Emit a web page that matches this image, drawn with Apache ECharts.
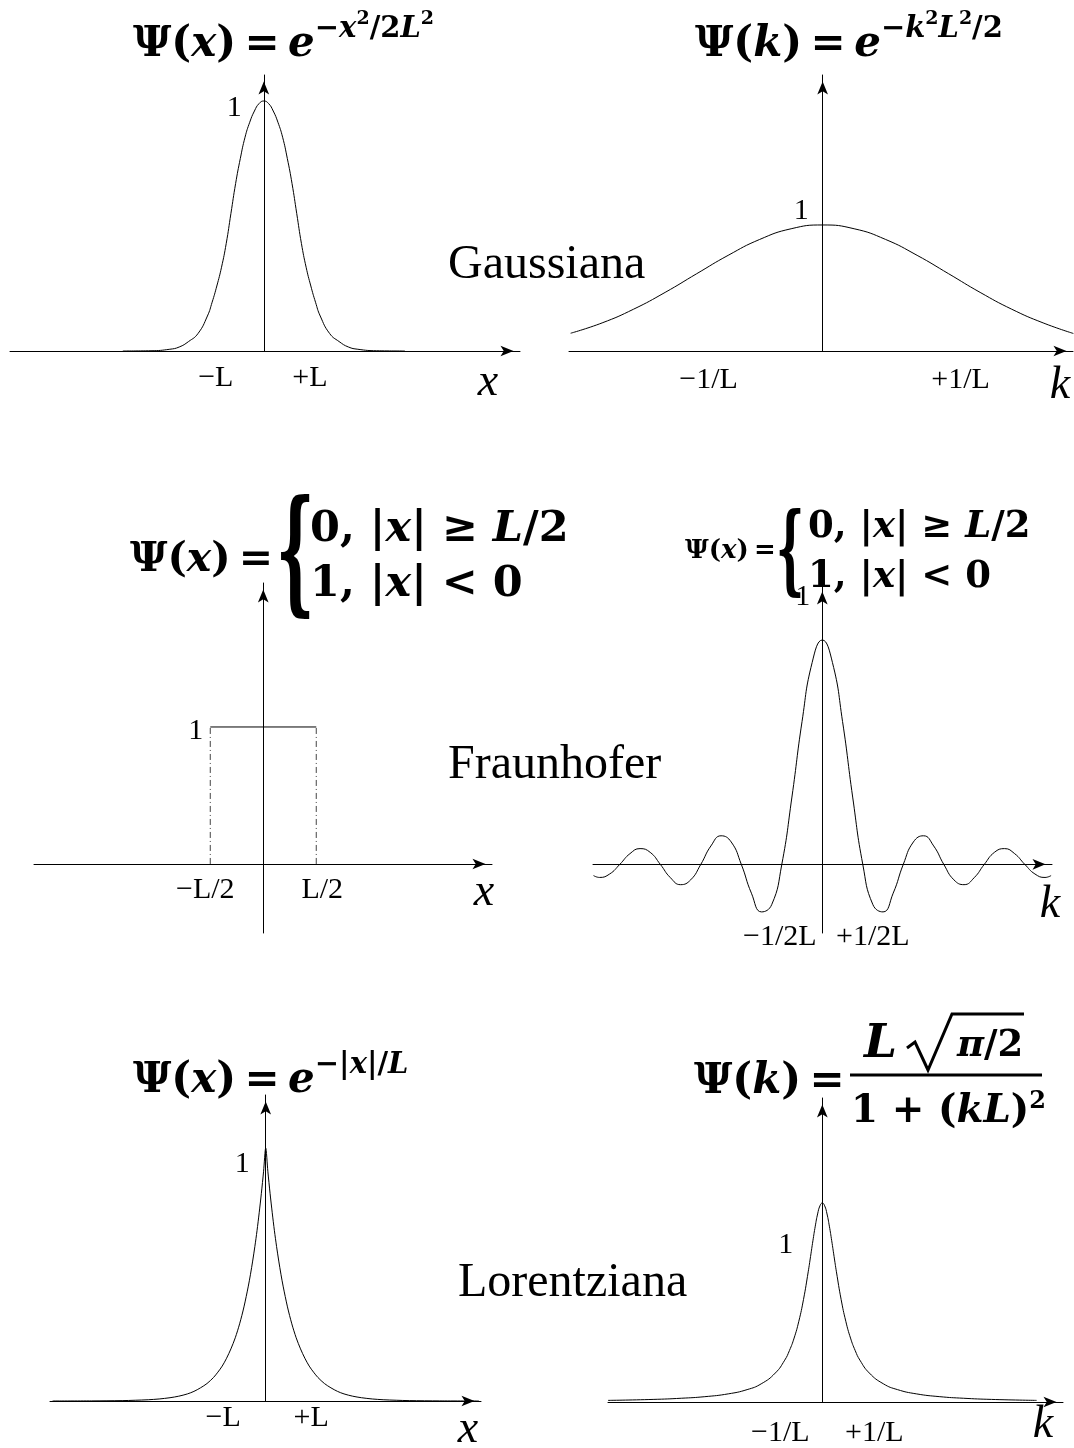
<!DOCTYPE html>
<html>
<head>
<meta charset="utf-8">
<script src="https://cdn.jsdelivr.net/npm/echarts@6/dist/echarts.min.js"></script>
<style>
  html, body { margin: 0; padding: 0; background: #fff; }
  #chart { width: 1074px; height: 1448px; }
</style>
</head>
<body>
<div id="chart"></div>
<script>
// Gaussian packet  Ψ(x) = e^{-x²/2L²}   (x in units of L)
const gaussXU = [-3.0, -2.4, -2.0, -1.8, -1.6, -1.4, -1.2, -1.1, -1.0, -0.9, -0.8, -0.7, -0.6, -0.5, -0.4, -0.3, -0.2, -0.1, 0,
                 0.1, 0.2, 0.3, 0.4, 0.5, 0.6, 0.7, 0.8, 0.9, 1.0, 1.1, 1.2, 1.4, 1.6, 1.8, 2.0, 2.4, 3.0];
const gaussXV = [0, 0.001, 0.007, 0.016, 0.038, 0.07, 0.14, 0.195, 0.26, 0.335, 0.43, 0.55, 0.67, 0.77, 0.855, 0.915, 0.96, 0.99, 1,
                 0.99, 0.96, 0.915, 0.855, 0.77, 0.67, 0.55, 0.43, 0.335, 0.26, 0.195, 0.14, 0.07, 0.038, 0.016, 0.007, 0.001, 0];

// Its transform  Ψ(k) = e^{-k²L²/2}   (k in units of 1/L)
const gaussKU = [-2.0, -1.75, -1.5, -1.25, -1.0, -0.75, -0.5, -0.25, 0, 0.25, 0.5, 0.75, 1.0, 1.25, 1.5, 1.75, 1.99];
const gaussKV = [0.141, 0.223, 0.332, 0.465, 0.613, 0.759, 0.885, 0.970, 1, 0.970, 0.885, 0.759, 0.613, 0.465, 0.332, 0.223, 0.139];

// Slit aperture (x in units of L)
const slitEdges = [-0.5, 0.5];
const slitHeight = [1];

// Fraunhofer pattern (k in units of 1/2L)
const sincKU = [-5.65, -5.5, -5.25, -5, -4.75, -4.5, -4.25, -4, -3.75, -3.5, -3.25, -3, -2.75, -2.5, -2.25, -2,
                -1.75, -1.5, -1.25, -1, -0.75, -0.5, -0.25, 0, 0.25, 0.5, 0.75, 1, 1.25, 1.5, 1.75,
                2, 2.25, 2.5, 2.75, 3, 3.25, 3.5, 3.75, 4, 4.25, 4.5, 4.75, 5, 5.25, 5.5, 5.65];
const sincKV = [-0.042, -0.049, -0.036, 0, 0.040, 0.059, 0.045, 0, -0.050, -0.076, -0.058, 0, 0.069, 0.107, 0.084, 0,
                -0.108, -0.178, -0.151, 0, 0.252, 0.535, 0.756, 0.840, 0.756, 0.535, 0.252, 0, -0.151, -0.178, -0.108,
                0, 0.084, 0.107, 0.069, 0, -0.058, -0.076, -0.050, 0, 0.045, 0.059, 0.040, 0, -0.036, -0.049, -0.042];

// Exponential packet  Ψ(x) = e^{-|x|/L}
const expXU = [-4.9, -4.0, -3.3, -3.0, -2.7, -2.45, -2.2, -2.0, -1.8, -1.65, -1.5, -1.35, -1.2, -1.1, -1.0, -0.9,
               -0.8, -0.7, -0.6, -0.5, -0.4, -0.35, -0.3, -0.25, -0.2, -0.15, -0.1, -0.05, 0,
               0.05, 0.1, 0.15, 0.2, 0.25, 0.3, 0.35, 0.4, 0.5, 0.6, 0.7, 0.8, 0.9, 1.0, 1.1, 1.2,
               1.35, 1.5, 1.65, 1.8, 2.0, 2.2, 2.45, 2.7, 3.0, 3.3, 4.0, 4.9];
const expXV = [0, 0.0004, 0.0015, 0.003, 0.005, 0.008, 0.013, 0.019, 0.028, 0.038, 0.052, 0.069, 0.093, 0.114, 0.138, 0.169,
               0.206, 0.250, 0.305, 0.372, 0.454, 0.501, 0.553, 0.610, 0.673, 0.744, 0.821, 0.906, 1,
               0.906, 0.821, 0.744, 0.673, 0.610, 0.553, 0.501, 0.454, 0.372, 0.305, 0.250, 0.206, 0.169, 0.138, 0.114, 0.093,
               0.069, 0.052, 0.038, 0.028, 0.019, 0.013, 0.008, 0.005, 0.003, 0.0015, 0.0004, 0];

// Lorentzian  Ψ(k) = L√(π/2) / (1 + (kL)²)   (k in units of 1/L)
const lorKU = [-4.56, -3.6, -3.0, -2.5, -2.0, -1.6, -1.3, -1.0, -0.8, -0.7, -0.6, -0.5, -0.4, -0.3, -0.25, -0.2, -0.15, -0.1, -0.05, 0,
               0.05, 0.1, 0.15, 0.2, 0.25, 0.3, 0.4, 0.5, 0.6, 0.7, 0.8, 1.0, 1.3, 1.6, 2.0, 2.5, 3.0, 3.6, 4.56];
const lorKV = [0.0103, 0.0165, 0.024, 0.034, 0.052, 0.079, 0.116, 0.185, 0.267, 0.328, 0.408, 0.515, 0.655, 0.831, 0.929, 1.029, 1.122, 1.200, 1.252, 1.27,
               1.252, 1.200, 1.122, 1.029, 0.929, 0.831, 0.655, 0.515, 0.408, 0.328, 0.267, 0.185, 0.116, 0.079, 0.052, 0.034, 0.024, 0.0165, 0.0103];

// Tick labels
const ticksGaussX = [-1, 1];     const ticksGaussXText = ['−L', '+L'];
const ticksGaussK = [-1, 1];     const ticksGaussKText = ['−1/L', '+1/L'];
const ticksSlitX = [-0.5, 0.5];  const ticksSlitXText = ['−L/2', 'L/2'];
const ticksSincK = [-1, 1];      const ticksSincKText = ['−1/2L', '+1/2L'];
const ticksExpX = [-1, 1];       const ticksExpXText = ['−L', '+L'];
const ticksLorK = [-1, 1];       const ticksLorKText = ['−1/L', '+1/L'];
const unitTick = [1];            const unitTickText = ['1'];

const TXT = 'Liberation Serif';
const MATH = 'DejaVu Serif';

const pair = (u, v) => u.map((x, i) => [x, v[i]]);

// Panel layout
const panels = [
  { grid: { left: 10, top: 75, width: 510, height: 276 }, xr: [-5.40, 5.45], yr: [0, 1.104],
    ticks: ticksGaussX, tickText: ticksGaussXText, tickShift: [-1, -1], tickMargin: 12,
    oneMargin: 22, oneShift: 7, name: 'x', nameDx: -32, nameDy: 32 },
  { grid: { left: 569, top: 75, width: 504, height: 276 }, xr: [-2.013, 1.987], yr: [0, 2.19],
    ticks: ticksGaussK, tickText: ticksGaussKText, tickShift: [12, 12], tickMargin: 14,
    oneMargin: 14, oneShift: -14, name: 'k', nameDx: -13, nameDy: 35 },
  { grid: { left: 34, top: 583, width: 458, height: 350 }, xr: [-2.163, 2.158], yr: [-0.504, 2.051],
    ticks: ticksSlitX, tickText: ticksSlitXText, tickShift: [-5, 6], tickMargin: 11,
    oneMargin: 60, oneShift: 4, name: 'x', nameDx: -8, nameDy: 29 },
  { grid: { left: 593, top: 585, width: 459, height: 348 }, xr: [-5.662, 5.672], yr: [-0.257, 1.046],
    ticks: ticksSincK, tickText: ticksSincKText, tickShift: [-2, 10], tickMargin: 58,
    oneMargin: 12, oneShift: 0, name: 'k', nameDx: -2, nameDy: 41 },
  { grid: { left: 50, top: 1095, width: 431, height: 306 }, xr: [-4.959, 4.949], yr: [0, 1.2095],
    ticks: ticksExpX, tickText: ticksExpXText, tickShift: [1, 2], tickMargin: 2,
    oneMargin: 16, oneShift: 16, name: 'x', nameDx: -13, nameDy: 29 },
  { grid: { left: 608, top: 1098, width: 455, height: 304 }, xr: [-4.56, 5.121], yr: [0, 1.94],
    ticks: ticksLorK, tickText: ticksLorKText, tickShift: [5, 5], tickMargin: 16,
    oneMargin: 29, oneShift: 0, name: 'k', nameDx: -20, nameDy: 23 }
];

const axisLine = {
  onZero: false,
  symbol: ['none', 'arrow'],
  symbolSize: [8, 13],
  symbolOffset: [0, -6.5],
  lineStyle: { color: '#000', width: 1 }
};

function hShift(s) { return s >= 0 ? [0, 0, 0, 2 * s] : [0, -2 * s, 0, 0]; }
function vShift(s) { return s >= 0 ? [2 * s, 0, 0, 0] : [0, 0, -2 * s, 0]; }

const grids = [], xAxes = [], yAxes = [];
panels.forEach((p, i) => {
  grids.push(Object.assign({ containLabel: false, outerBoundsMode: 'none' }, p.grid));
  // the axes cross at the origin: shift each one inward from the grid edge
  const xOffset = -p.grid.height * (0 - p.yr[0]) / (p.yr[1] - p.yr[0]);
  const yOffset = -p.grid.width * (0 - p.xr[0]) / (p.xr[1] - p.xr[0]);
  const rich = {};
  p.ticks.forEach((t, j) => {
    rich['t' + j] = { fontFamily: TXT, fontSize: 30, color: '#000', padding: hShift(p.tickShift[j]) };
  });
  xAxes.push({
    type: 'value', gridIndex: i, min: p.xr[0], max: p.xr[1],
    position: 'bottom', offset: xOffset,
    axisLine: axisLine, axisTick: { show: false }, splitLine: { show: false },
    axisLabel: {
      customValues: p.ticks,
      margin: p.tickMargin,
      fontFamily: TXT, fontSize: 30, color: '#000',
      formatter: (v) => {
        let j = 0;
        p.ticks.forEach((t, k) => { if (Math.abs(t - v) < Math.abs(p.ticks[j] - v)) j = k; });
        return '{t' + j + '|' + p.tickText[j] + '}';
      },
      rich: rich
    },
    name: p.name, nameLocation: 'end', nameGap: p.nameDx,
    nameTextStyle: {
      fontFamily: TXT, fontStyle: 'italic', fontSize: 46, color: '#000',
      align: 'center', verticalAlign: 'top', lineHeight: 2 * p.nameDy
    }
  });
  yAxes.push({
    type: 'value', gridIndex: i, min: p.yr[0], max: p.yr[1],
    position: 'left', offset: yOffset,
    axisLine: axisLine, axisTick: { show: false }, splitLine: { show: false },
    axisLabel: {
      customValues: unitTick,
      margin: p.oneMargin,
      fontFamily: TXT, fontSize: 30, color: '#000',
      formatter: () => '{o|' + unitTickText[0] + '}',
      rich: { o: { fontFamily: TXT, fontSize: 30, color: '#000', padding: vShift(p.oneShift) } }
    }
  });
});

const curve = (i, data, smooth) => ({
  type: 'line', xAxisIndex: i, yAxisIndex: i, data: data, smooth: smooth,
  showSymbol: false, silent: true, clip: true,
  lineStyle: { color: '#000', width: 1 }
});

const series = [
  curve(0, pair(gaussXU, gaussXV), true),
  curve(1, pair(gaussKU, gaussKV), true),
  curve(2, [[slitEdges[0], slitHeight[0]], [slitEdges[1], slitHeight[0]]], false),
  Object.assign(curve(2, [[slitEdges[0], 0], [slitEdges[0], slitHeight[0]]], false),
    { lineStyle: { color: '#444', width: 1, type: [6, 3, 1, 3] } }),
  Object.assign(curve(2, [[slitEdges[1], 0], [slitEdges[1], slitHeight[0]]], false),
    { lineStyle: { color: '#444', width: 1, type: [6, 3, 1, 3] } }),
  curve(3, pair(sincKU, sincKV), true),
  curve(4, pair(expXU, expXV), 0.3),
  curve(5, pair(lorKU, lorKV), true)
];

// Rich styles for the formulas
function mathRich(size, raise) {
  const base = { fontFamily: MATH, fontWeight: 'bold', fill: '#000' };
  return {
    m: Object.assign({}, base, { fontSize: size, verticalAlign: 'bottom', padding: [raise, 0, 0, 0] }),
    v: Object.assign({}, base, { fontSize: size, fontStyle: 'italic', verticalAlign: 'bottom', padding: [raise, 0, 0, 0] }),
    s: Object.assign({}, base, { fontSize: Math.round(size * 0.68), verticalAlign: 'top', padding: [5, 0, 0, 0] }),
    sv: Object.assign({}, base, { fontSize: Math.round(size * 0.68), fontStyle: 'italic', verticalAlign: 'top', padding: [5, 0, 0, 0] }),
    ss: Object.assign({}, base, { fontSize: Math.round(size * 0.46), verticalAlign: 'top' })
  };
}
function linesRich(size, lh) {
  const base = { fontFamily: MATH, fontWeight: 'bold', fill: '#000', lineHeight: lh };
  return {
    m: Object.assign({}, base, { fontSize: size }),
    v: Object.assign({}, base, { fontSize: size, fontStyle: 'italic' }),
    s: Object.assign({}, base, { fontSize: Math.round(size * 0.62), verticalAlign: 'top' })
  };
}
const T = (x, y, text, rich, extra) => Object.assign({
  type: 'text', x: x, y: y, silent: true,
  style: { text: text, rich: rich, align: 'left', verticalAlign: 'middle' }
}, extra || {});
const plain = (x, y, text, font, extra) => Object.assign({
  type: 'text', x: x, y: y, silent: true,
  style: { text: text, font: font, fill: '#000', align: 'left', verticalAlign: 'middle' }
}, extra || {});
const rule = (x1, x2, y, w) => ({
  type: 'line', silent: true, shape: { x1: x1, y1: y, x2: x2, y2: y },
  style: { stroke: '#000', lineWidth: w }
});

const EQ = '\u2009=\u2009';

const graphic = [
  // row captions
  plain(448, 265, 'Gaussiana', '48px "Liberation Serif"'),
  plain(448, 765, 'Fraunhofer', '48px "Liberation Serif"'),
  plain(458, 1283, 'Lorentziana', '48px "Liberation Serif"'),

  // Ψ(x) = e^{-x²/2L²}
  T(133, 38, '{m|Ψ(}{v|x}{m|)' + EQ + '}{v|e}{s|−}{sv|x}{ss|2}{s|/2}{sv|L}{ss|2}', mathRich(42, 14)),
  // Ψ(k) = e^{-k²L²/2}
  T(695, 38, '{m|Ψ(}{v|k}{m|)' + EQ + '}{v|e}{s|−}{sv|k}{ss|2}{sv|L}{ss|2}{s|/2}', mathRich(42, 14)),

  // Slit: piecewise definition
  T(130, 560, '{m|Ψ(}{v|x}{m|)' + EQ + '}', linesRich(41, 50)),
  plain(276, 562, '{', 'bold 60px "DejaVu Serif"', { scaleY: 2.25 }),
  T(310, 557, '{m|0, |}{v|x}{m|| ≥ }{v|L}{m|/2}\n{m|1, |}{v|x}{m|| < 0}', linesRich(43, 55)),

  // Fraunhofer: same definition
  T(685, 551, '{m|Ψ(}{v|x}{m|)' + EQ + '}', linesRich(26, 40)),
  plain(776, 557, '{', 'bold 44px "DejaVu Serif"', { scaleY: 2.2 }),
  T(808, 552, '{m|0, |}{v|x}{m|| ≥ }{v|L}{m|/2}\n{m|1, |}{v|x}{m|| < 0}', linesRich(37, 50)),

  // Ψ(x) = e^{-|x|/L}
  T(133, 1074, '{m|Ψ(}{v|x}{m|)' + EQ + '}{v|e}{s|−|}{sv|x}{s||/}{sv|L}', mathRich(42, 14)),

  // Ψ(k) = L√(π/2) / (1 + (kL)²)
  T(694, 1082, '{m|Ψ(}{v|k}{m|)' + EQ + '}', linesRich(42, 50)),
  T(864, 1045, '{v|L}', linesRich(47, 50)),
  { type: 'polyline', silent: true,
    shape: { points: [[907, 1048], [915, 1042], [928, 1070], [952, 1014], [1024, 1014]] },
    style: { stroke: '#000', lineWidth: 3, fill: null, lineJoin: 'miter' } },
  T(957, 1046, '{v|π}{m|/2}', linesRich(37, 50)),
  rule(850, 1042, 1075, 3),
  T(851, 1112, '{m|1 + (}{v|kL}{m|)}{s|2}', linesRich(39, 44))
];

const chart = echarts.init(document.getElementById('chart'), null, { renderer: 'canvas' });
chart.setOption({
  animation: false,
  backgroundColor: '#fff',
  grid: grids,
  xAxis: xAxes,
  yAxis: yAxes,
  series: series,
  graphic: graphic
});
</script>
</body>
</html>
